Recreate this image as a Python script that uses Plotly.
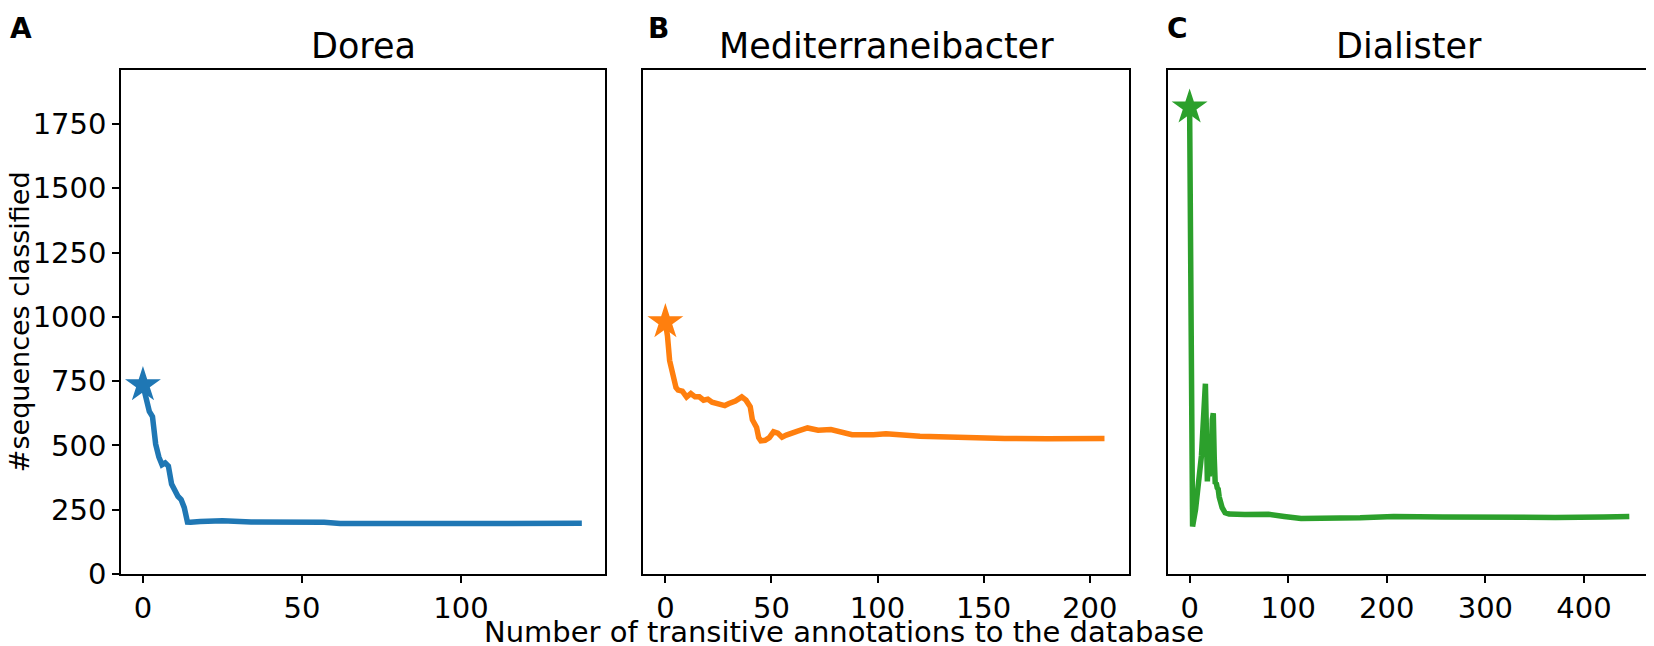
import plotly.graph_objects as go

# Dorea
dorea_x = [0, 1, 2, 3, 4, 5, 6, 7, 8, 9, 10, 11, 12, 13, 14, 15, 18, 25, 34, 45, 57, 62, 80, 100, 117, 138]
dorea_y = [735, 675, 632, 612, 505, 455, 425, 432, 420, 350, 325, 302, 290, 258, 202, 201, 204, 207, 202, 202, 201, 196, 195, 195, 197, 197]

# Mediterraneibacter
medi_x = [0, 1, 2, 3, 4, 5, 6, 8, 10, 12, 14, 16, 18, 20, 22, 25, 28, 30, 33, 36, 38, 40, 41, 43, 44, 45,
          47, 49, 51, 53, 55, 57, 59, 62, 67, 72, 78, 84, 88, 98, 104, 120, 140, 160, 180, 207]
medi_y = [980, 925, 830, 790, 760, 725, 715, 711, 688, 702, 689, 689, 676, 680, 668, 663, 655, 663, 673, 689, 676, 650, 600, 570, 530, 518,
          520, 530, 553, 548, 532, 540, 548, 555, 568, 559, 562, 552, 542, 542, 545, 536, 530, 527, 526, 527]

# Dialister
dial_x = [0, 2, 3, 6, 9, 12, 14, 16, 17, 18, 19, 20, 21, 22, 23, 24, 25, 26, 27, 28, 29, 30, 31, 33, 36, 40,
          56, 80, 96, 113, 173, 207, 257, 324, 371, 420, 446]
dial_y = [1815, 300, 185, 250, 340, 460, 600, 740, 560, 360, 450, 380, 500, 420, 600, 625, 450, 350, 355, 335, 330, 300, 285, 258, 238, 233,
          231, 232, 224, 216, 219, 224, 222, 219, 220, 222, 224]

TITLES = ["Dorea", "Mediterraneibacter", "Dialister"]
LETTERS = ["A", "B", "C"]
COLORS = ["#1f77b4", "#ff7f0e", "#2ca02c"]
X_RANGES = [[-6.9, 145.4], [-10.4, 218.4], [-22.3, 468]]
Y_RANGE = [0, 1960]
Y_TICKS = [0, 250, 500, 750, 1000, 1250, 1500, 1750]

# the page body has an 8px margin, so the figure is a bit smaller than the window
W, H = 1646, 638
L, R, T, B = 113, 1, 62, 72
pw = W - L - R
ph = H - T - B
# panel spans in figure pixels
spans = [(113, 598), (636, 1122), (1161, 1645)]
domains = [[(a - L) / pw, (b - L) / pw] for a, b in spans]

FONT = "DejaVu Sans"

fig = go.Figure()
series = [(dorea_x, dorea_y), (medi_x, medi_y), (dial_x, dial_y)]
for i, (xs, ys) in enumerate(series):
    ax = "" if i == 0 else str(i + 1)
    fig.add_trace(go.Scatter(x=xs, y=ys, mode="lines", line=dict(color=COLORS[i], width=5.5),
                             xaxis="x" + ax, yaxis="y" + ax, showlegend=False))
    fig.add_trace(go.Scatter(x=[xs[0]], y=[ys[0]], mode="markers",
                             marker=dict(symbol="star", size=27, color=COLORS[i], line=dict(width=0)),
                             xaxis="x" + ax, yaxis="y" + ax, showlegend=False))

axis_common = dict(showline=True, mirror=True, linecolor="black", linewidth=1.5,
                   showgrid=False, zeroline=False, ticks="outside", ticklen=7, tickwidth=1.5,
                   tickcolor="black", tickfont=dict(family=FONT, size=29, color="black"))

layout = dict(width=W, height=H, margin=dict(l=L, r=R, t=T, b=B),
              paper_bgcolor="white", plot_bgcolor="white",
              font=dict(family=FONT, color="black"))
for i in range(3):
    ax = "" if i == 0 else str(i + 1)
    xa = dict(axis_common, domain=domains[i], range=X_RANGES[i], anchor="y" + ax)
    ya = dict(axis_common, range=Y_RANGE, anchor="x" + ax, tickvals=Y_TICKS)
    if i > 0:
        ya.update(showticklabels=False, ticks="")
    layout["xaxis" + ax] = xa
    layout["yaxis" + ax] = ya
fig.update_layout(**layout)

ann = []
for i in range(3):
    ax = "" if i == 0 else str(i + 1)
    ann.append(dict(text=TITLES[i], x=0.5, xref="x" + ax + " domain", y=1, yref="paper",
                    xanchor="center", yanchor="bottom", yshift=2, showarrow=False,
                    font=dict(family=FONT, size=35, color="black")))
letter_x = [0, 639, 1158]
for i in range(3):
    ann.append(dict(text="<b>" + LETTERS[i] + "</b>", x=(letter_x[i] - L) / pw, xref="paper",
                    y=1 + (T - 2) / ph, yref="paper", xanchor="left", yanchor="top",
                    showarrow=False, font=dict(family=FONT, size=28, color="black")))
ann.append(dict(text="#sequences classified", textangle=-90, x=(11 - L) / pw, xref="paper",
                y=0.5, yref="paper", xanchor="center", yanchor="middle", showarrow=False,
                font=dict(family=FONT, size=27, color="black")))
ann.append(dict(text="Number of transitive annotations to the database", x=(837 - L) / pw, xref="paper",
                y=-(624 - (H - B)) / ph, yref="paper", xanchor="center", yanchor="middle",
                showarrow=False, font=dict(family=FONT, size=29, color="black")))
fig.update_layout(annotations=ann)

fig.write_html("out.html")
